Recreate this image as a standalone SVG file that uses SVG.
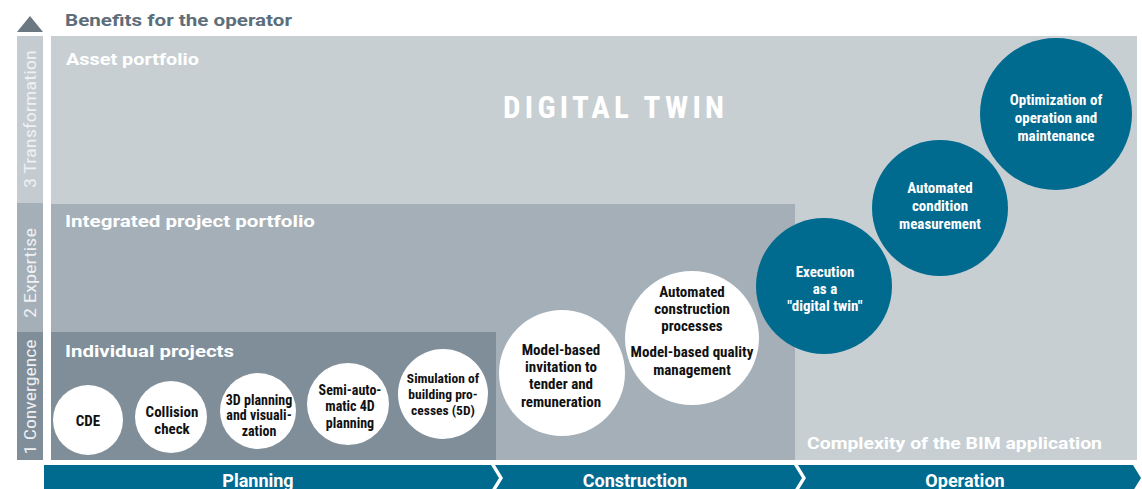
<svg xmlns="http://www.w3.org/2000/svg" width="1142" height="489" viewBox="0 0 1142 489">
<style>
text{font-family:"Roboto Condensed","Liberation Sans Narrow","Liberation Sans",sans-serif;}
.lbl{font-family:Roboto,"Liberation Sans",sans-serif;fill:#ffffff;font-weight:bold;font-size:17px;}
.ax{fill:#eef1f3;font-size:16px;}
.wc{fill:#ffffff;}
.dc{fill:#006a8f;}
.wt{fill:#111111;font-weight:bold;font-size:15px;text-anchor:middle;}
.st{font-size:14px;}
.dt{fill:#ffffff;font-weight:bold;font-size:15px;text-anchor:middle;}
.bar{fill:#006a8f;}
.bt{font-family:Roboto,"Liberation Sans",sans-serif;fill:#ffffff;font-weight:bold;font-size:18px;text-anchor:middle;}
</style>
<rect width="1142" height="489" fill="#ffffff"/>
<g id="axis">
<polygon points="17,32 30,16 43,32" fill="#6b7881"/>
<rect x="17" y="36" width="26" height="167" fill="#c5ccd1"/>
<rect x="17" y="203" width="26" height="129" fill="#a4afb7"/>
<rect x="17" y="332" width="26" height="128" fill="#7f8e99"/>
<text class="ax" transform="translate(36,119) rotate(-90)" text-anchor="middle" textLength="138" lengthAdjust="spacingAndGlyphs">3 Transformation</text>
<text class="ax" transform="translate(36,273) rotate(-90)" text-anchor="middle" textLength="90" lengthAdjust="spacingAndGlyphs">2 Expertise</text>
<text class="ax" transform="translate(36,397) rotate(-90)" text-anchor="middle" textLength="115" lengthAdjust="spacingAndGlyphs">1 Convergence</text>
</g>
<text class="lbl" x="65" y="26" style="fill:#5d6e7b" textLength="227" lengthAdjust="spacingAndGlyphs">Benefits for the operator</text>
<g id="asset-portfolio">
<rect x="51" y="36" width="1086" height="424" fill="#c8cfd3"/>
<text class="lbl" x="66" y="65" textLength="133" lengthAdjust="spacingAndGlyphs">Asset portfolio</text>
<text x="503" y="118" font-size="31" fill="#ffffff" font-weight="bold" textLength="221" lengthAdjust="spacing">DIGITAL TWIN</text>
<text class="lbl" x="807" y="449" textLength="295" lengthAdjust="spacingAndGlyphs">Complexity of the BIM application</text>
</g>
<g id="integrated-project-portfolio">
<rect x="51" y="204" width="744" height="256" fill="#a4afb7"/>
<text class="lbl" x="65" y="227" textLength="250" lengthAdjust="spacingAndGlyphs">Integrated project portfolio</text>
</g>
<g id="individual-projects">
<rect x="51" y="332" width="445" height="128" fill="#7f8e99"/>
<text class="lbl" x="65" y="357" textLength="169" lengthAdjust="spacingAndGlyphs">Individual projects</text>
</g>
<g id="phases">
<polygon class="bar" points="44,465 491,465 499,478 491,491 44,491"/>
<polygon class="bar" points="495,465 794,465 802,478 794,491 495,491 503,478"/>
<polygon class="bar" points="798,465 1133,465 1141,478 1133,491 798,491 806,478"/>
<text class="bt" x="258" y="487">Planning</text>
<text class="bt" x="635" y="487">Construction</text>
<text class="bt" x="965" y="487">Operation</text>
</g>
<g id="n-cde"><circle class="wc" cx="88" cy="420" r="35"/><text class="wt" x="88" y="426">CDE</text></g>
<g id="n-collision"><circle class="wc" cx="171" cy="417" r="36"/><text class="wt" x="172" y="417">Collision</text><text class="wt" x="172" y="434">check</text></g>
<g id="n-3d"><circle class="wc" cx="258" cy="411" r="38"/><text class="wt st" x="259" y="405">3D planning</text><text class="wt st" x="259" y="420">and visuali-</text><text class="wt st" x="259" y="436">zation</text></g>
<g id="n-4d"><circle class="wc" cx="348" cy="404" r="41"/><text class="wt st" x="350" y="395">Semi-auto-</text><text class="wt st" x="350" y="411">matic 4D</text><text class="wt st" x="350" y="428">planning</text></g>
<g id="n-5d"><circle class="wc" cx="443" cy="394" r="45"/><text class="wt" x="443" y="383" style="font-size:13.5px">Simulation of</text><text class="wt" x="443" y="399" style="font-size:13.5px">building pro-</text><text class="wt" x="443" y="415" style="font-size:13.5px">cesses (5D)</text></g>
<g id="n-tender"><circle class="wc" cx="562" cy="373" r="63"/><text class="wt" x="561" y="355">Model-based</text><text class="wt" x="561" y="372">invitation to</text><text class="wt" x="561" y="389">tender and</text><text class="wt" x="561" y="407">remuneration</text></g>
<g id="n-construction"><circle class="wc" cx="692" cy="338" r="67"/><text class="wt" x="692" y="297">Automated</text><text class="wt" x="692" y="314">construction</text><text class="wt" x="692" y="331">processes</text><text class="wt" x="692" y="357">Model-based quality</text><text class="wt" x="692" y="375">management</text></g>
<g id="n-execution"><circle class="dc" cx="824" cy="286" r="68"/><text class="dt" x="825" y="277">Execution</text><text class="dt" x="825" y="294">as a</text><text class="dt" x="825" y="311">"digital twin"</text></g>
<g id="n-condition"><circle class="dc" cx="940" cy="208" r="68"/><text class="dt" x="940" y="193">Automated</text><text class="dt" x="940" y="211">condition</text><text class="dt" x="940" y="229">measurement</text></g>
<g id="n-optimization"><circle class="dc" cx="1056" cy="114" r="76"/><text class="dt" x="1056" y="105">Optimization of</text><text class="dt" x="1056" y="123">operation and</text><text class="dt" x="1056" y="141">maintenance</text></g>
<g id="connectors"></g>
</svg>
